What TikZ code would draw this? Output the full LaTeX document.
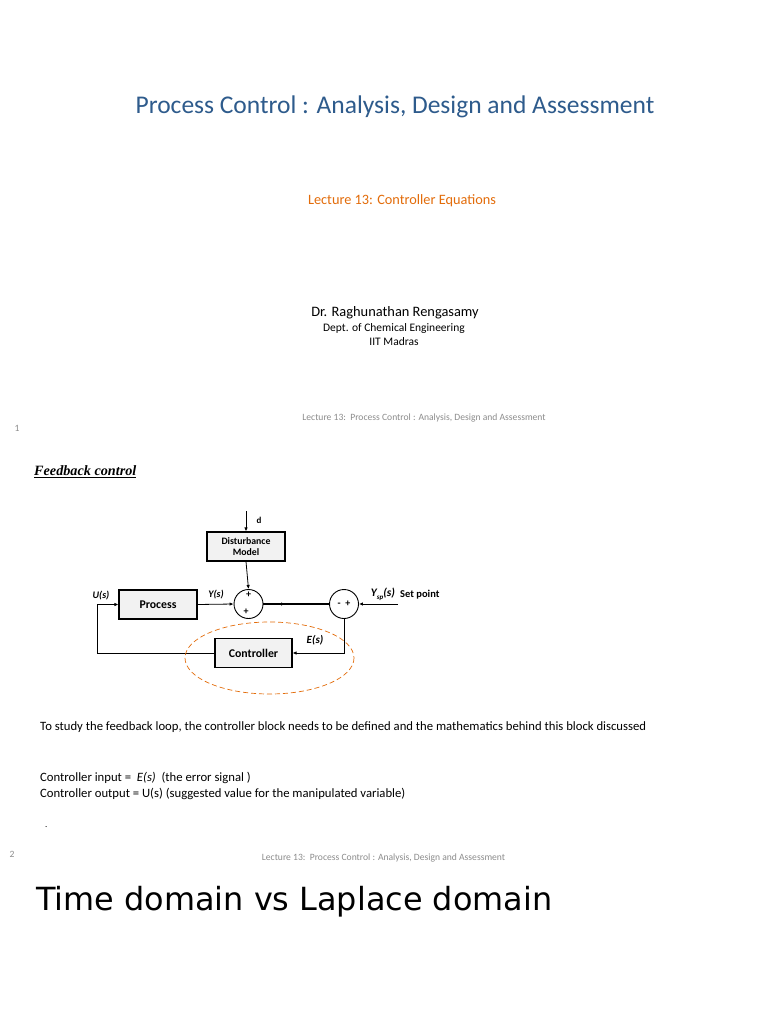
\documentclass[tikz,border=0pt]{standalone}
\usepackage{fontspec}
\setmainfont{Carlito}
\newfontfamily\serifbi{Liberation Serif}
\newfontfamily\dejavu{DejaVu Sans}
\usetikzlibrary{arrows.meta}
\definecolor{titleblue}{HTML}{2E5B8C}
\definecolor{lecorange}{HTML}{E36C0A}
\definecolor{footgray}{HTML}{8C8C8C}
\definecolor{boxfill}{HTML}{F2F2F2}
\tikzset{
  blockbox/.style={draw=black, line width=1.1pt, fill=boxfill, minimum height=29pt, inner sep=0pt, font=\fontsize{11.8}{12}\selectfont\bfseries},
  sumnode/.style={draw=black, line width=0.9pt, circle, minimum size=29pt, inner sep=0pt},
  sig/.style={line width=0.8pt, -{Latex[length=4pt,width=3.5pt]}},
  lbl/.style={font=\fontsize{10}{11}\selectfont\bfseries\itshape, inner sep=0pt},
  plain/.style={inner sep=0pt, anchor=west},
  foot/.style={inner sep=0pt, text=footgray, font=\fontsize{9.6}{11}\selectfont}
}
\begin{document}
\begin{tikzpicture}[x=1pt,y=-1pt]
\useasboundingbox[fill=white] (0,0) rectangle (768,1024);
% title page
\node[inner sep=0pt, text=titleblue, font=\fontsize{25.5}{30}\selectfont] (title) at (395,107) {Process Control : Analysis, Design and Assessment};
\node[inner sep=0pt, text=lecorange, font=\fontsize{14.3}{17}\selectfont] (lec) at (402,201) {Lecture 13: Controller Equations};
\node[inner sep=0pt, font=\fontsize{14.4}{17}\selectfont] (auth) at (395,313) {Dr. Raghunathan Rengasamy};
\node[inner sep=0pt, font=\fontsize{11.5}{13}\selectfont] (dept) at (394,328.5) {Dept. of Chemical Engineering};
\node[inner sep=0pt, font=\fontsize{11.5}{13}\selectfont] (iit) at (394,341.5) {IIT Madras};
\node[foot] (foot1) at (424,418) {Lecture 13:\ \ Process Control : Analysis, Design and Assessment};
\node[foot] (pg1) at (17,428) {1};
% second page
\node[plain, font=\serifbi\fontsize{14.2}{16}\selectfont\bfseries\itshape] (fb) at (34,471.5) {\underline{Feedback control}};
% diagram
\node[blockbox, minimum width=78pt, font=\fontsize{9.8}{11}\selectfont\bfseries, align=center] (dist) at (246,546.5) {Disturbance\\Model};
\node[blockbox, minimum width=78pt] (proc) at (158,604.5) {Process};
\node[blockbox, minimum width=77pt] (ctrl) at (253.5,653) {Controller};
\node[sumnode] (s1) at (248.5,604) {};
\node[sumnode] (s2) at (344,604) {};
\node[inner sep=0pt, font=\fontsize{10}{10}\selectfont\bfseries] (p1) at (248.5,595) {+};
\node[inner sep=0pt, font=\fontsize{10}{10}\selectfont\bfseries] (p2) at (246,612) {+};
\node[inner sep=0pt, font=\fontsize{10}{10}\selectfont\bfseries] (mp) at (344,604) {-\ \ +};
\coordinate (dtop) at (246,511);
\coordinate (spin) at (398,604);
\coordinate (c1) at (344,653);
\coordinate (c2) at (97,653);
\coordinate (c3) at (97,604.5);
\draw[sig] (dtop) -- (dist.north);
\draw[sig] (dist.south) -- (s1.north);
\draw[sig] (proc.east) -- (s1.west);
\draw[line width=1.4pt] (s1.east) -- (s2.west);
\draw[sig] (s1.east) -- (285,604);
\draw[sig] (spin) -- (s2.east);
\draw[sig] (s2.south) -- (c1) -- (ctrl.east);
\draw[sig] (ctrl.west) -- (c2) -- (c3) -- (proc.west);
\draw[lecorange, line width=0.7pt, dash pattern=on 5pt off 3pt] (269.5,658) ellipse [x radius=84.5, y radius=36];
\node[inner sep=0pt, font=\fontsize{9}{10}\selectfont\bfseries] (dl) at (259,520) {d};
\node[lbl] (ul) at (101,596) {U(s)};
\node[lbl] (yl) at (216,595) {Y(s)};
\node[lbl, font=\fontsize{11}{12}\selectfont\bfseries\itshape] (el) at (315,640) {E(s)};
\node[lbl, font=\fontsize{11.5}{12}\selectfont\bfseries\itshape] (ysp) at (383,594) {Y\raisebox{-0.5ex}{\fontsize{7}{8}\selectfont sp}(s)};
\node[inner sep=0pt, anchor=west, font=\fontsize{10.5}{12}\selectfont\bfseries] (spl) at (400,595) {Set point};
% text
\node[plain, font=\fontsize{12.7}{15}\selectfont] (t1) at (40,727.5) {To study the feedback loop, the controller block needs to be defined and the mathematics behind this block discussed};
\node[plain, font=\fontsize{12.7}{15}\selectfont] (t2) at (40,777.5) {Controller input =\ \ \textit{E(s)}\ \ (the error signal )};
\node[plain, font=\fontsize{12.7}{15}\selectfont] (t3) at (40,793.5) {Controller output = U(s) (suggested value for the manipulated variable)};
\node[plain, font=\fontsize{9}{10}\selectfont] (dot) at (45,827) {.};
\node[foot] (pg2) at (12,854) {2};
\node[foot] (foot2) at (383.5,858) {Lecture 13:\ \ Process Control : Analysis, Design and Assessment};
\node[plain, font=\dejavu\fontsize{31.9}{36}\selectfont] (big) at (36,902) {Time domain vs Laplace domain};
\end{tikzpicture}
\end{document}
